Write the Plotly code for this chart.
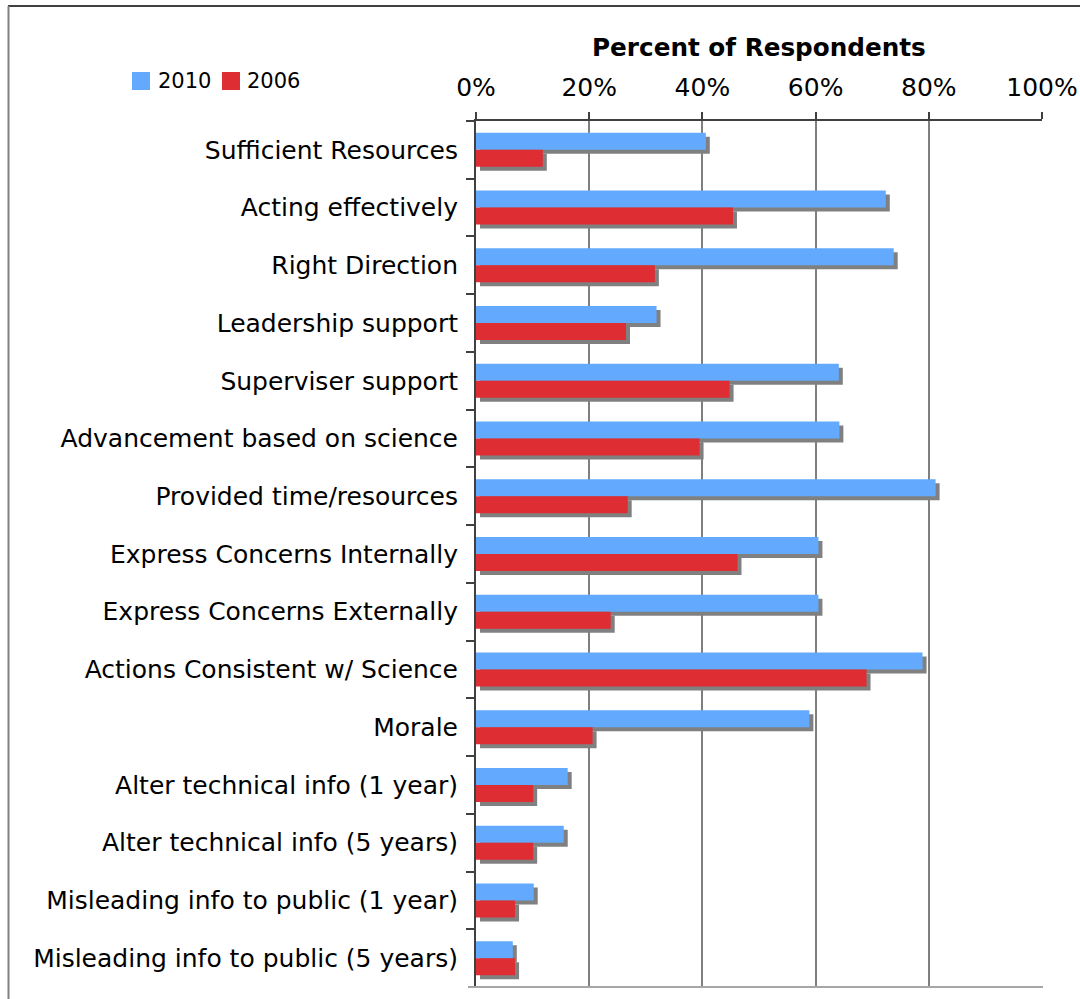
import plotly.graph_objects as go

categories = [
    "Sufficient Resources",
    "Acting effectively",
    "Right Direction",
    "Leadership support",
    "Superviser support",
    "Advancement based on science",
    "Provided time/resources",
    "Express Concerns Internally",
    "Express Concerns Externally",
    "Actions Consistent w/ Science",
    "Morale",
    "Alter technical info (1 year)",
    "Alter technical info (5 years)",
    "Misleading info to public (1 year)",
    "Misleading info to public (5 years)",
]
values_2010 = [40.6, 72.4, 73.8, 31.9, 64.1, 64.2, 81.2, 60.5, 60.5, 78.9, 58.9, 16.2, 15.5, 10.2, 6.5]
values_2006 = [11.8, 45.4, 31.6, 26.5, 44.8, 39.5, 26.8, 46.2, 23.8, 69.0, 20.6, 10.1, 10.1, 6.9, 6.9]
series_names = ["2010", "2006"]
tick_values = [0, 20, 40, 60, 80, 100]
tick_labels = ["0%", "20%", "40%", "60%", "80%", "100%"]

# ---- layout constants (pixels) ----
W, H = 1080, 999
PL, PR, PT, PB = 476, 1042, 121, 987
BLUE = "#63AAFE"
RED = "#DE2D33"
SHADOW = "#808080"
FONT = "Verdana, DejaVu Sans, sans-serif"

n = len(categories)
cat_px = (PB - PT) / n
bar_w = 17 / cat_px
shadow_dy = 4 / cat_px
shadow_dx = 4 * 100 / (PR - PL)


def px_x(p):
    return (p - PL) / (PR - PL)


def px_y(p):
    return (PB - p) / (PB - PT)


fig = go.Figure()

# shadows first
for vals, off in [(values_2010, -bar_w), (values_2006, 0.0)]:
    fig.add_trace(go.Bar(
        y=categories, x=vals, base=[shadow_dx] * n, orientation="h",
        offset=off + shadow_dy, width=bar_w,
        marker=dict(color=SHADOW, line=dict(width=0)),
        showlegend=False, hoverinfo="skip",
    ))

for name, vals, off, col in [(series_names[0], values_2010, -bar_w, BLUE),
                             (series_names[1], values_2006, 0.0, RED)]:
    fig.add_trace(go.Bar(
        y=categories, x=vals, orientation="h", name=name,
        offset=off, width=bar_w,
        marker=dict(color=col, line=dict(width=0)),
        showlegend=False,
    ))

shapes = [
    # outer frame
    dict(type="line", xref="paper", yref="paper", x0=px_x(8), x1=px_x(1085), y0=px_y(6), y1=px_y(6),
         line=dict(color="#000000", width=1.5)),
    dict(type="line", xref="paper", yref="paper", x0=px_x(8.5), x1=px_x(8.5), y0=px_y(6), y1=px_y(1010),
         line=dict(color="#808080", width=2)),
    # bottom plot border
    dict(type="line", xref="paper", yref="paper", x0=px_x(468), x1=px_x(1043), y0=0, y1=0,
         line=dict(color="#a6a6a6", width=2)),
    # legend swatches
    dict(type="rect", xref="paper", yref="paper", x0=px_x(132), x1=px_x(150), y0=px_y(90), y1=px_y(72),
         fillcolor=BLUE, line=dict(width=0)),
    dict(type="rect", xref="paper", yref="paper", x0=px_x(222), x1=px_x(240), y0=px_y(90), y1=px_y(72),
         fillcolor=RED, line=dict(width=0)),
]

annotations = [
    dict(text="<b>Percent of Respondents</b>", xref="paper", yref="paper", x=0.5, y=px_y(48),
         xanchor="center", yanchor="middle", showarrow=False,
         font=dict(family=FONT, size=24.7, color="#000000")),
    dict(text=series_names[0], xref="paper", yref="paper", x=px_x(156), y=px_y(81),
         xanchor="left", yanchor="middle", showarrow=False,
         font=dict(family=FONT, size=21, color="#000000")),
    dict(text=series_names[1], xref="paper", yref="paper", x=px_x(245), y=px_y(81),
         xanchor="left", yanchor="middle", showarrow=False,
         font=dict(family=FONT, size=21, color="#000000")),
]

fig.update_layout(
    width=W, height=H,
    margin=dict(l=PL, r=W - PR, t=PT, b=H - PB, pad=0, autoexpand=False),
    paper_bgcolor="white", plot_bgcolor="white",
    barmode="overlay",
    showlegend=False,
    font=dict(family=FONT, size=25, color="#000000"),
    shapes=shapes,
    annotations=annotations,
    xaxis=dict(
        side="top", range=[0, 100], tickvals=tick_values, ticktext=tick_labels,
        showgrid=True, gridcolor="#7f7f7f", gridwidth=2,
        showline=True, linecolor="#404040", linewidth=2,
        ticks="outside", ticklen=7, tickcolor="#404040", tickwidth=1.5,
        ticklabelstandoff=6, zeroline=False, automargin=False,
        tickfont=dict(family=FONT, size=25, color="#000000"),
        fixedrange=True,
    ),
    yaxis=dict(
        type="category", autorange="reversed",
        showline=True, linecolor="#404040", linewidth=2,
        ticks="outside", ticklen=8, tickcolor="#404040", tickwidth=1.5,
        tickson="boundaries", showgrid=False, zeroline=False,
        ticklabelstandoff=11, automargin=False,
        tickfont=dict(family=FONT, size=25, color="#000000"),
        fixedrange=True,
    ),
)

fig.write_html("out.html", post_script="document.body.style.margin='0';document.body.style.overflow='hidden';",
               config={"displayModeBar": False})
